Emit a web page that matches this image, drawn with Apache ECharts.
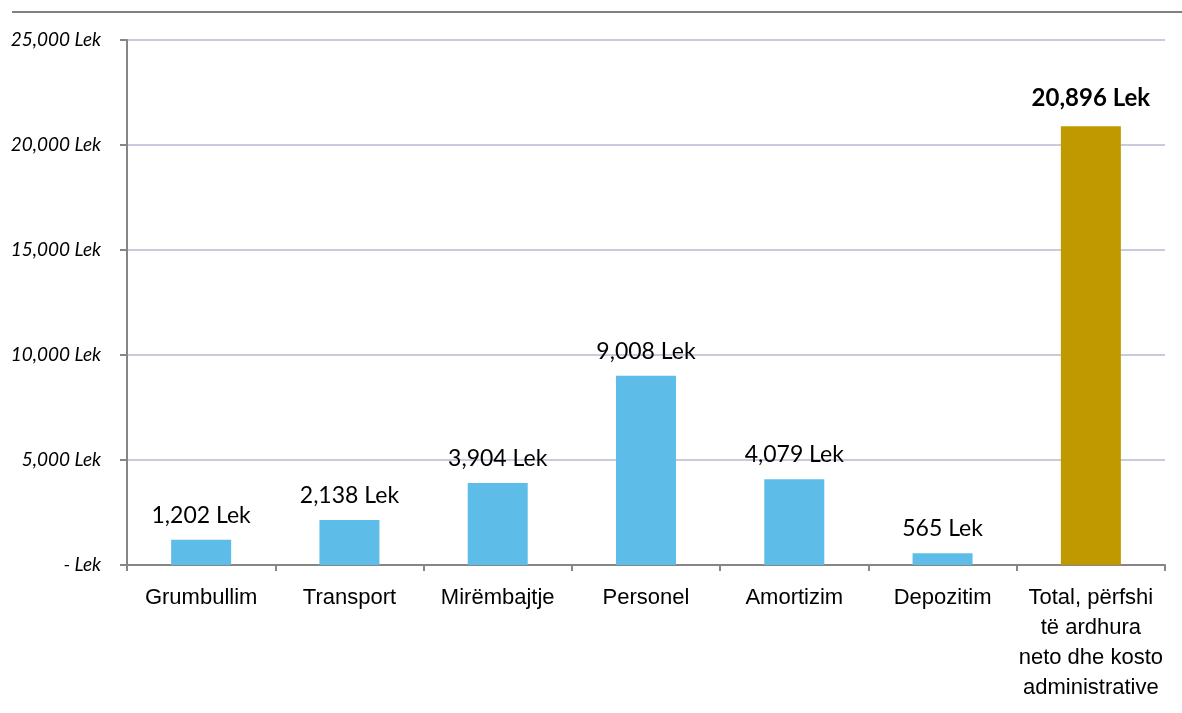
<!DOCTYPE html>
<html>
<head>
<meta charset="utf-8">
<script src="https://cdn.jsdelivr.net/npm/echarts@6/dist/echarts.min.js"></script>
<style>
html,body{margin:0;padding:0;background:#fff;}
#chart{width:1182px;height:713px;}
</style>
</head>
<body>
<div id="chart"></div>
<script>
const categories = ["Grumbullim", "Transport", "Mirëmbajtje", "Personel", "Amortizim", "Depozitim", "Total, përfshi\ntë ardhura\nneto dhe kosto\nadministrative"];
const values = [1202, 2138, 3904, 9008, 4079, 565, 20896];
const yTicks = [0, 5000, 10000, 15000, 20000, 25000];

const barBlue = "#5EBCE9";
const barGold = "#C09900";

function fmt(v) {
  if (v === 0) return "- Lek";
  return v.toLocaleString("en-US") + " Lek";
}

const chart = echarts.init(document.getElementById("chart"), null, {renderer: "canvas"});
const lastIdx = values.length - 1;
const data = values.map((v, i) => ({
  value: v,
  itemStyle: {color: i === lastIdx ? barGold : barBlue},
  label: i === lastIdx ? {fontWeight: "bold", fontSize: 24, distance: 16} : {}
}));

chart.setOption({
  animation: false,
  backgroundColor: "#fff",
  graphic: [{
    type: "line",
    shape: {x1: 12, y1: 12, x2: 1182, y2: 12},
    style: {stroke: "#808080", lineWidth: 2}
  }],
  grid: {left: 127, right: 17, top: 40, bottom: 148},
  xAxis: {
    type: "category",
    data: categories,
    axisLine: {lineStyle: {color: "#868686", width: 2}},
    axisTick: {show: true, length: 6, lineStyle: {color: "#868686", width: 2}},
    axisLabel: {
      interval: 0,
      margin: 18,
      fontFamily: "Liberation Sans, Arial",
      fontSize: 22,
      lineHeight: 30,
      color: "#000"
    }
  },
  yAxis: {
    type: "value",
    min: yTicks[0],
    max: yTicks[yTicks.length - 1],
    interval: 5000,
    axisLine: {show: true, lineStyle: {color: "#868686", width: 2}},
    axisTick: {show: true, length: 7, lineStyle: {color: "#868686", width: 2}},
    splitLine: {lineStyle: {color: "#B4BAD2", width: 1.5}},
    axisLabel: {
      margin: 26,
      fontFamily: "Lato",
      fontStyle: "italic",
      fontSize: 19,
      color: "#000",
      formatter: fmt
    }
  },
  series: [{
    type: "bar",
    barWidth: 60,
    data: data,
    label: {
      show: true,
      position: "top",
      distance: 13,
      fontFamily: "Lato",
      fontSize: 23,
      color: "#000",
      formatter: p => fmt(p.value)
    }
  }]
});
</script>
</body>
</html>
